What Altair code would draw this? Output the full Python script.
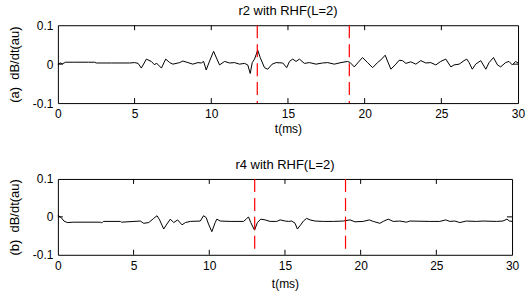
import altair as alt
import pandas as pd

# ---- data ----
t_a = [0, 0.15, 0.3, 0.5, 1.0, 2.0, 2.4, 2.5, 3.5, 4.5, 4.68, 5.0, 5.23, 5.44, 5.77, 6.09, 6.31, 6.42,
       6.75, 7.03, 7.29, 7.5, 7.94, 8.15, 8.48, 8.8, 9.13, 9.35, 9.5, 9.67, 9.89, 10.15, 10.37, 10.54,
       10.87, 11.19, 11.52, 11.84, 12.17, 12.38, 12.54, 12.67, 12.82, 13.03, 13.19, 13.47, 13.68, 13.97,
       14.23, 14.66, 14.92, 15.1, 15.31, 15.53, 15.75, 16.07, 16.4, 16.83, 17.26, 17.59, 18.02, 18.46,
       18.89, 19.06, 19.32, 19.86, 20.19, 20.52, 20.84, 21.06, 21.34, 21.49, 21.71, 21.99, 22.25, 22.47,
       22.69, 23.01, 23.34, 23.66, 23.99, 24.31, 24.64, 24.96, 25.29, 25.62, 25.83, 26.16, 26.48, 26.66,
       26.81, 27.02, 27.24, 27.57, 27.9, 28.11, 28.4, 28.66, 28.87, 29.19, 29.41, 29.63, 29.84, 30.0]
v_a = [0.0, 0.003, 0.001, 0.005, 0.005, 0.005, 0.005, 0.003, 0.003, 0.003, 0.003, 0.004, 0.002, -0.010,
       0.013, 0.007, -0.002, 0.003, -0.010, 0.013, 0.004, 0.0, 0.004, 0.008, 0.004, 0.0, 0.004, 0.003,
       0.007, -0.015, 0.008, 0.033, 0.013, -0.002, 0.007, 0.003, 0.004, 0.0, 0.002, -0.002, -0.024, 0.004,
       0.013, 0.036, 0.017, -0.009, -0.013, 0.0, 0.004, 0.003, -0.009, 0.007, 0.013, 0.007, 0.013, 0.002,
       0.004, 0.0, 0.003, 0.004, 0.0, 0.004, 0.007, 0.004, -0.007, 0.017, 0.004, -0.009, 0.004, 0.011,
       0.023, 0.008, -0.013, -0.002, 0.010, 0.009, 0.002, 0.006, 0.0, 0.009, 0.003, 0.004, -0.002, 0.007,
       0.013, -0.007, -0.002, 0.0, 0.009, 0.013, 0.004, -0.013, 0.0, 0.009, -0.013, 0.004, 0.017, -0.002,
       -0.007, 0.004, 0.007, -0.002, 0.007, 0.003]

t_b = [0, 0.04, 0.22, 0.4, 0.62, 1.05, 2.8, 2.9, 3.0, 4.13, 4.2, 5.45, 5.67, 6.0, 6.33, 6.55, 6.72, 6.99,
       7.2, 7.43, 7.65, 7.91, 8.2, 8.42, 8.75, 9.41, 9.62, 9.8, 9.95, 10.17, 10.39, 10.5, 10.73, 11.38,
       12.26, 12.44, 12.59, 12.74, 12.99, 13.18, 13.4, 13.69, 14.02, 14.46, 14.68, 15.01, 15.23, 15.45,
       15.67, 15.82, 16.04, 16.22, 16.43, 16.66, 16.99, 17.53, 18.19, 18.85, 19.3, 19.62, 20.17, 20.57,
       20.83, 21.27, 21.49, 21.82, 22.15, 22.59, 23.03, 23.25, 24.57, 25.23, 25.62, 25.89, 26.22, 26.55,
       26.98, 27.64, 28.08, 28.96, 29.4, 29.66, 29.84, 30.0]
v_b = [0.005, 0.003, -0.002, -0.011, -0.015, -0.014, -0.014, -0.016, -0.012, -0.012, -0.014, -0.011,
       -0.017, -0.015, -0.004, 0.003, -0.008, -0.032, -0.019, -0.006, -0.015, -0.008, -0.021, -0.015,
       -0.012, -0.011, 0.003, -0.002, -0.019, -0.039, -0.015, -0.006, -0.011, -0.012, -0.012, -0.006,
       0.0, -0.015, -0.035, -0.015, -0.006, -0.008, -0.012, -0.012, -0.008, -0.011, -0.012, -0.011,
       -0.017, -0.032, -0.021, -0.011, -0.004, -0.008, -0.011, -0.012, -0.012, -0.011, -0.008, -0.013,
       -0.012, -0.008, -0.012, -0.017, -0.012, -0.006, -0.012, -0.011, -0.014, -0.011, -0.012, -0.012,
       -0.008, -0.012, -0.011, -0.015, -0.011, -0.012, -0.011, -0.012, -0.011, -0.006, -0.011, -0.012]

markers = [13, 19]
x_ticks = [0, 5, 10, 15, 20, 25, 30]
y_ticks = [-0.1, 0, 0.1]
titles = ["r2 with RHF(L=2)", "r4 with RHF(L=2)"]
ylabels = ["(a)\u00a0\u00a0dB/dt(au)", "(b)\u00a0\u00a0dB/dt(au)"]

FONT = "Liberation Sans"
TL = 5  # inward tick length


def panel(t, v, title, ylabel, W, H, xtitle_y, ytitle_x, xlabel_pad):
    xs = alt.Scale(domain=[0, 30], nice=False, zero=False)
    ys = alt.Scale(domain=[-0.1, 0.1], nice=False, zero=False)
    xaxis = alt.Axis(values=x_ticks, domain=False, ticks=False, grid=False,
                     labelFlush=False, labelOverlap=False, labelPadding=xlabel_pad,
                     labelFontSize=12, labelFont=FONT, labelColor="black",
                     titleFont=FONT, titleFontSize=12, titleFontWeight="normal",
                     titleColor="black", titleY=xtitle_y)
    yaxis = alt.Axis(values=y_ticks, domain=False, ticks=False, grid=False,
                     labelFlush=False, labelOverlap=False, labelPadding=5,
                     labelFontSize=12, labelFont=FONT, labelColor="black",
                     labelExpr="datum.value > 0.05 ? '0.1' : (datum.value < -0.05 ? '-0.1' : '0')",
                     titleFont=FONT, titleFontSize=13, titleFontWeight="normal",
                     titleColor="black", titleX=ytitle_x)
    X = alt.X("t:Q", scale=xs, title="t(ms)", axis=xaxis)
    Y = alt.Y("v:Q", scale=ys, title=ylabel, axis=yaxis)

    df = pd.DataFrame({"t": t, "v": v})
    line = alt.Chart(df).mark_line(color="black", strokeWidth=1).encode(x=X, y=Y)

    xt = pd.DataFrame({"t": x_ticks[1:-1]})
    top_t = alt.Chart(xt).mark_rule(color="black", strokeWidth=1).encode(
        x=X, y=alt.value(0), y2=alt.value(TL))
    bot_t = alt.Chart(xt).mark_rule(color="black", strokeWidth=1).encode(
        x=X, y=alt.value(H - TL), y2=alt.value(H))
    yt = pd.DataFrame({"v": [0.0]})
    left_t = alt.Chart(yt).mark_rule(color="black", strokeWidth=1).encode(
        y=Y, x=alt.value(0), x2=alt.value(TL))
    right_t = alt.Chart(yt).mark_rule(color="black", strokeWidth=1).encode(
        y=Y, x=alt.value(W - TL), x2=alt.value(W))
    red = alt.Chart(pd.DataFrame({"t": markers})).mark_rule(
        color="#ff0000", strokeWidth=1.2, strokeDash=[13, 6]).encode(x=X)
    return alt.layer(line, top_t, bot_t, left_t, right_t, red).properties(
        width=W, height=H,
        title=alt.Title(title, font=FONT, fontSize=13, fontWeight="normal", color="black",
                        offset=1, anchor="middle", frame="group"))


top = panel(t_a, v_a, titles[0], ylabels[0], 461, 78, 20, -36, 5)
bottom = panel(t_b, v_b, titles[1], ylabels[1], 455, 76, 24, -36, 6)

chart = alt.vconcat(top, bottom, spacing=23).properties(
    padding={"left": 8, "top": 4, "right": 5, "bottom": 2},
    background="white",
).configure_view(stroke="black", strokeWidth=1)

chart.save("out.html", embed_options={"renderer": "svg", "actions": False})
